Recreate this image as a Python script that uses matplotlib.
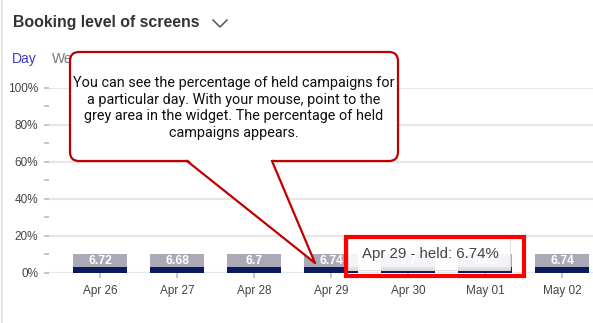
import matplotlib
matplotlib.use("Agg")
import matplotlib.pyplot as plt
import numpy as np
from matplotlib.patches import FancyBboxPatch, Polygon, Rectangle

# Data
days = ["Apr 26", "Apr 27", "Apr 28", "Apr 29", "Apr 30", "May 01", "May 02"]
booked = [3.2, 3.2, 3.2, 3.2, 3.2, 3.2, 3.2]
held = [6.72, 6.68, 6.7, 6.74, 6.7, 6.65, 6.74]
held_labels = ["6.72", "6.68", "6.7", "6.74", "6.7", "6.65", "6.74"]

W, H = 593, 323
fig = plt.figure(figsize=(W / 100, H / 100), dpi=100)
fig.patch.set_facecolor("white")

# Main chart axes (pixel box: x 49..593, y 87.7..272.7)
ax = fig.add_axes([49 / W, 1 - 272.7 / H, 1 - 49 / W, (272.7 - 87.7) / H])
x = np.arange(len(days))
ax.bar(x, booked, width=0.70, color="#0b1a5e", zorder=3)
ax.bar(x, held, width=0.70, bottom=booked, color="#aba9b7", zorder=3)
for i in range(len(days)):
    ax.text(x[i], booked[i] + held[i] / 2, held_labels[i], ha="center", va="center",
            color="white", fontsize=8.7, fontweight="bold", family="Liberation Sans", zorder=4)

ax.set_xlim(-0.662, 6.40)
ax.set_ylim(0, 100)
ax.set_yticks([0, 20, 40, 60, 80, 100])
ax.set_yticks([10, 30, 50, 70, 90], minor=True)
ax.set_yticklabels(["0%", "20%", "40%", "60%", "80%", "100%"])
ax.set_xticks(x)
ax.set_xticklabels(days)
ax.tick_params(axis="y", which="both", length=3.6, width=1.2, color="#bbbbbb", pad=4.3,
               labelsize=8.5, labelcolor="#444444")
ax.tick_params(axis="x", length=3.6, width=1.2, color="#bbbbbb", pad=5,
               labelsize=8.5, labelcolor="#444444")
for lab in ax.get_xticklabels() + ax.get_yticklabels():
    lab.set_family("Liberation Sans")
ax.grid(axis="y", color="#e6e6e6", linewidth=1.6, zorder=0)
for s in ax.spines.values():
    s.set_visible(False)
ax.set_facecolor("none")

# Overlay in pixel coordinates for annotations
ov = fig.add_axes([0, 0, 1, 1], zorder=10)
ov.set_xlim(0, W)
ov.set_ylim(H, 0)
ov.axis("off")
ov.patch.set_alpha(0)

# left border
ov.plot([2, 2], [0, H], color="#dfe5ec", lw=1.5)

# title and chevron
ov.text(13, 22, "Booking level of screens", ha="left", va="center", fontsize=11.4,
        fontweight="bold", color="#333333", family="Liberation Sans")
ov.plot([213, 220, 227], [20, 27, 20], color="#555555", lw=1.1)

# tabs (partly hidden behind the callout)
ov.text(12, 59, "Day", ha="left", va="center", fontsize=10, color="#3b3bc0",
        family="Liberation Sans", zorder=0.5)
ov.text(52, 59, "Week", ha="left", va="center", fontsize=10, color="#777777",
        family="Liberation Sans", zorder=0.5)

# callout
box = FancyBboxPatch((70, 52), 328, 109, boxstyle="round,pad=0,rounding_size=9",
                     facecolor="white", edgecolor="#c00000", lw=1.6, zorder=2)
ov.add_patch(box)
ov.add_patch(Polygon([(187, 159), (315, 263), (272, 159)], closed=True,
                     facecolor="white", edgecolor="none", zorder=2.1))
ov.plot([187, 315, 272], [161, 263, 161], color="#c00000", lw=1.6, zorder=2.2)
callout = ("You can see the percentage of held campaigns for\n"
           "a particular day. With your mouse, point to the\n"
           "grey area in the widget. The percentage of held\n"
           "campaigns appears.")
ov.text(234, 108, callout, ha="center", va="center", fontsize=10.4, color="#111111",
        family="Roboto", linespacing=1.25, zorder=3)

# tooltip
ov.add_patch(Rectangle((348, 238), 162, 32, facecolor="white", alpha=0.88,
                       edgecolor="#dddddd", lw=0.8, zorder=2))
ov.text(362, 254, "Apr 29 - held: 6.74%", ha="left", va="center", fontsize=10.8,
        color="#444444", family="Liberation Sans", zorder=3)
ov.add_patch(Rectangle((346, 237), 178, 39, facecolor="none", edgecolor="#ff0000", lw=3, zorder=4))

fig.savefig("out.png", dpi=100)
